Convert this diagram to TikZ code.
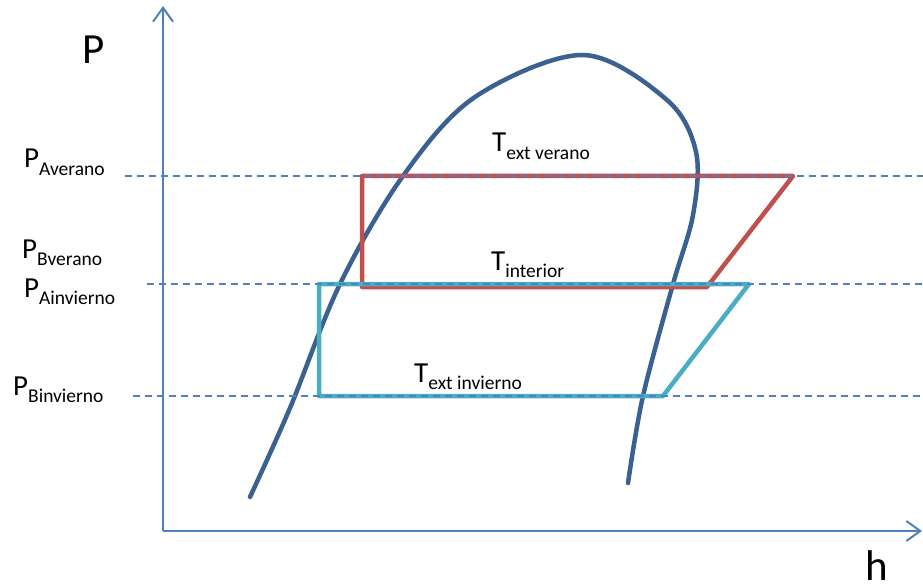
\documentclass[tikz,border=0pt]{standalone}
\usepackage{fontspec}
\setmainfont{Carlito}
\usetikzlibrary{arrows.meta}
\definecolor{curveblue}{HTML}{3B6190}
\definecolor{axisblue}{HTML}{4F81BD}
\definecolor{cyclered}{HTML}{C0504D}
\definecolor{cyclecyan}{HTML}{4BACC6}
\newcommand{\plbl}[2]{#1\raisebox{-7.5pt}{\fontsize{19.5}{20}\selectfont #2}}
\tikzset{
  axisline/.style={draw=axisblue, line width=2pt, -{Straight Barb[length=14pt,width=20pt,line width=2pt]}},
  guide/.style={draw=axisblue, line width=1.4pt, dash pattern=on 7pt off 5pt},
  satcurve/.style={draw=curveblue, line width=4.5pt, line cap=round},
  summer/.style={draw=cyclered, line width=4.5pt, line join=round},
  winter/.style={draw=cyclecyan, line width=4.5pt, line join=round},
  lbl/.style={anchor=base west, inner sep=0pt, font=\fontsize{29}{30}\selectfont},
  biglbl/.style={anchor=base west, inner sep=0pt, font=\fontsize{43}{44}\selectfont}
}
\begin{document}
\begin{tikzpicture}[x=1pt,y=-1pt]
\useasboundingbox (0,0) rectangle (923,588);
% axes
\coordinate (O) at (163,531);
\coordinate (Ytop) at (163,6);
\coordinate (Xend) at (922,531);
% saturation curve
\draw[satcurve] plot[smooth, tension=0.55] coordinates {(250,497) (290,408) (340,284) (403,176) (475,97) (583,55) (667,100) (696,152) (693,215) (673,284) (643,396) (628,483)};
% summer cycle
\coordinate (r1) at (362,176);
\coordinate (r2) at (793,176);
\coordinate (r3) at (707,287);
\coordinate (r4) at (362,287);
\draw[summer] (r1) -- (r2) -- (r3) -- (r4) -- cycle;
% winter cycle
\coordinate (c1) at (319,284);
\coordinate (c2) at (749,284);
\coordinate (c3) at (663,396);
\coordinate (c4) at (319,396);
\draw[winter] (c1) -- (c2) -- (c3) -- (c4) -- cycle;
% guide lines
\coordinate (gA1) at (125,176); \coordinate (gA2) at (923,176);
\coordinate (gB1) at (147,284); \coordinate (gB2) at (923,284);
\coordinate (gC1) at (133,396); \coordinate (gC2) at (923,396);
\draw[guide] (gA1) -- (gA2);
\draw[guide] (gB1) -- (gB2);
\draw[guide] (gC1) -- (gC2);
\draw[axisline] (O) -- (Ytop);
\draw[axisline] (O) -- (Xend);
% labels
\node[biglbl] (Plbl) at (82,64) {P};
\node[biglbl] (hlbl) at (865,580) {h};
\node[lbl] (pav) at (24,168) {\plbl{P}{Averano}};
\node[lbl] (pbv) at (22,258) {\plbl{P}{Bverano}};
\node[lbl] (pai) at (24,297) {\plbl{P}{Ainvierno}};
\node[lbl] (pbi) at (13,395) {\plbl{P}{Binvierno}};
\node[lbl] (tev) at (492,152) {\plbl{T}{ext verano}};
\node[lbl] (tin) at (491,270) {\plbl{T}{interior}};
\node[lbl] (tei) at (414,382) {\plbl{T}{ext invierno}};
\end{tikzpicture}
\end{document}
